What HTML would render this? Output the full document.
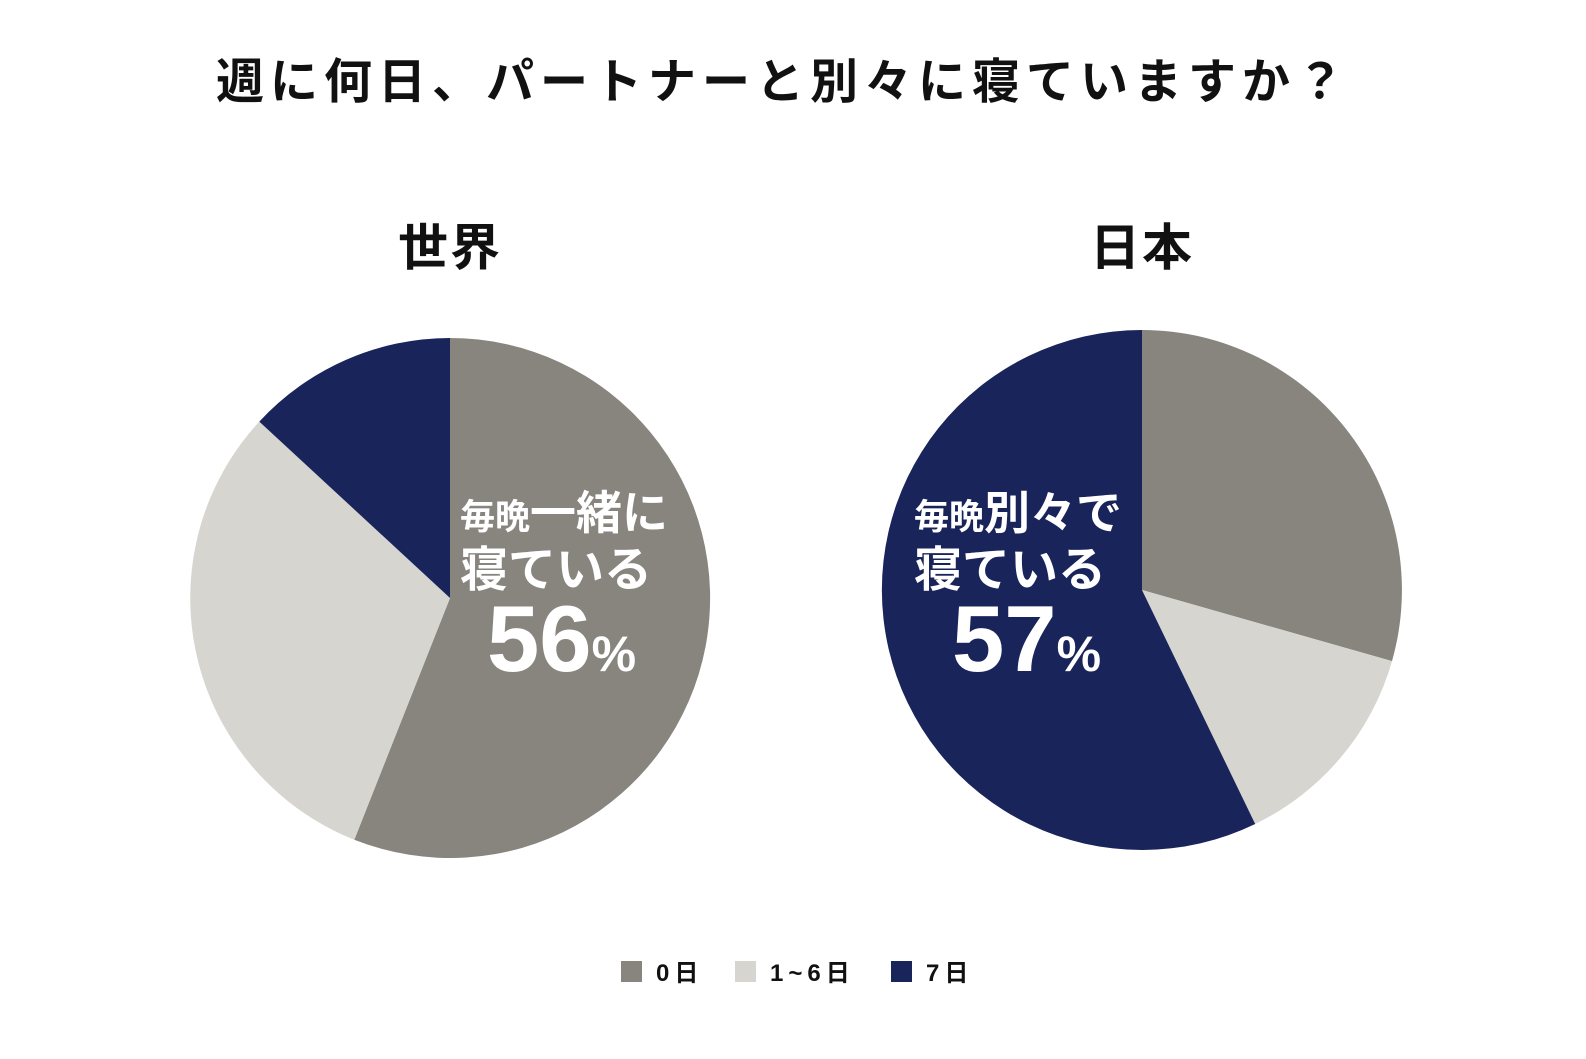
<!DOCTYPE html>
<html><head><meta charset="utf-8"><style>
body{margin:0;background:#fff;}
svg text{font-family:"Liberation Sans","Noto Sans CJK JP",sans-serif;font-weight:bold;}
</style></head><body>
<svg width="1586" height="1054" viewBox="0 0 1586 1054" xmlns="http://www.w3.org/2000/svg">
<rect width="1586" height="1054" fill="#fff"/>
<text x="783" y="98" font-size="48" letter-spacing="6" text-anchor="middle" fill="#111">週に何日、パートナーと別々に寝ていますか？</text>
<text x="450" y="265" font-size="50" letter-spacing="2" text-anchor="middle" fill="#111">世界</text>
<text x="1142" y="265" font-size="50" letter-spacing="2" text-anchor="middle" fill="#111">日本</text>
<path d="M450,598 L450,338 A260,260 0 1 1 354.3,839.7 Z" fill="#87857e"/>
<path d="M450,598 L354.3,839.7 A260,260 0 0 1 259.3,421.6 Z" fill="#d6d5cf"/>
<path d="M450,598 L259.3,421.6 A260,260 0 0 1 450,338 Z" fill="#18245a"/>
<path d="M1142,590 L1142,330 A260,260 0 0 1 1392,661.1 Z" fill="#87857e"/>
<path d="M1142,590 L1392,661.1 A260,260 0 0 1 1255.2,824 Z" fill="#d6d5cf"/>
<path d="M1142,590 L1255.2,824 A260,260 0 1 1 1142,330 Z" fill="#18245a"/>
<g fill="#fff">
<text x="460" y="529"><tspan font-size="35">毎晩</tspan><tspan font-size="46">一緒に</tspan></text>
<text x="460" y="586" font-size="48">寝ている</text>
<text x="487" y="671"><tspan font-size="94">56</tspan><tspan font-size="50">%</tspan></text>
<text x="914" y="529"><tspan font-size="35">毎晩</tspan><tspan font-size="46">別々で</tspan></text>
<text x="914" y="586" font-size="48">寝ている</text>
<text x="952" y="671"><tspan font-size="94">57</tspan><tspan font-size="50">%</tspan></text>
</g>
<rect x="621" y="961" width="21" height="21" fill="#87857e"/>
<text x="656" y="981" font-size="24" letter-spacing="5" fill="#111">0日</text>
<rect x="735" y="961" width="21" height="21" fill="#d6d5cf"/>
<text x="770" y="981" font-size="24" letter-spacing="5" fill="#111">1~6日</text>
<rect x="891" y="961" width="21" height="21" fill="#18245a"/>
<text x="926" y="981" font-size="24" letter-spacing="5" fill="#111">7日</text>
</svg>
</body></html>
